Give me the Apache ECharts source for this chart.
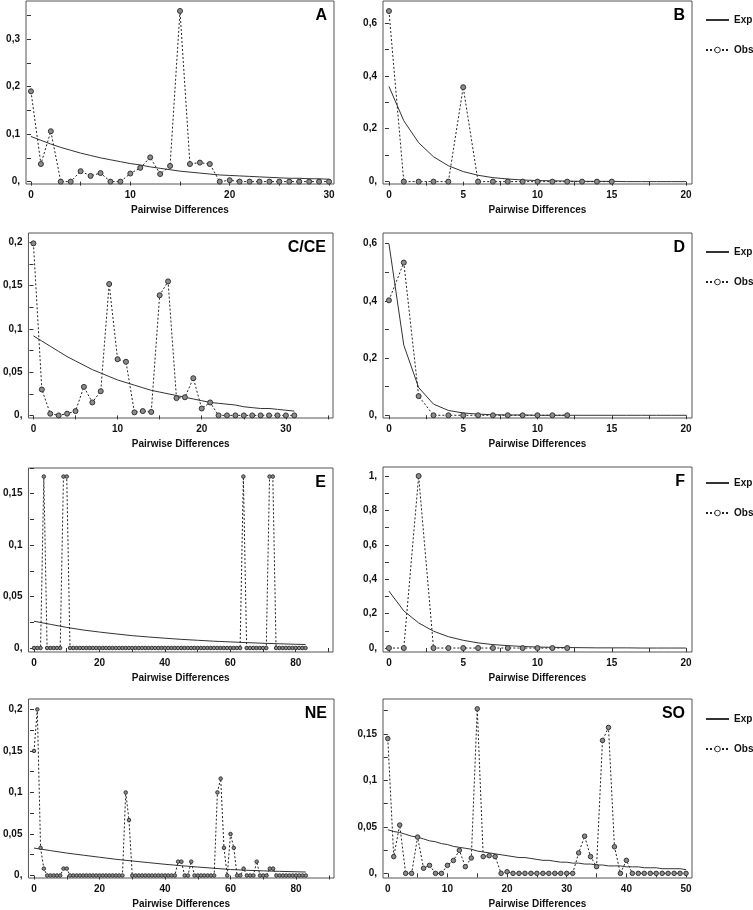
<!DOCTYPE html>
<html>
<head>
<meta charset="utf-8">
<script src="https://cdn.jsdelivr.net/npm/echarts@6/dist/echarts.min.js"></script>
<style>
  html, body { margin: 0; padding: 0; background: #fff; }
  #chart { width: 753px; height: 910px; }
</style>
</head>
<body>
<div id="chart"></div>
<script>
// Mismatch distributions: observed vs expected pairwise differences

// --- A ---
const obsA = [0.19, 0.037, 0.106, 0, 0, 0.022, 0.012, 0.018, 0, 0, 0.017, 0.029, 0.051, 0.016, 0.033, 0.359,
  0.037, 0.040, 0.037, 0, 0.003, 0, 0, 0, 0, 0, 0, 0, 0, 0, 0];
const expA = [0.095, 0.087, 0.079, 0.072, 0.066, 0.060, 0.055, 0.050, 0.046, 0.042, 0.038, 0.035, 0.031, 0.028,
  0.025, 0.022, 0.020, 0.018, 0.016, 0.014, 0.013, 0.012, 0.011, 0.010, 0.009, 0.008, 0.007, 0.007, 0.006, 0.006, 0.005];
const xLabelsA = [0, 10, 20, 30];
const yLabelsA = [0, 0.1, 0.2, 0.3];

// --- B ---
const obsB = [0.645, 0, 0, 0, 0, 0.357, 0, 0, 0, 0, 0, 0, 0, 0, 0, 0];
const expB = [0.36, 0.23, 0.147, 0.094, 0.06, 0.038, 0.024, 0.015, 0.01, 0.006, 0.004, 0.003, 0.002, 0.001,
  0.001, 0.001, 0, 0, 0, 0, 0];
const xLabelsB = [0, 5, 10, 15, 20];
const yLabelsB = [0, 0.2, 0.4, 0.6];

// --- C/CE ---
const obsC = [0.199, 0.030, 0.002, 0, 0.002, 0.005, 0.033, 0.015, 0.028, 0.152, 0.065, 0.062, 0.0035, 0.005,
  0.004, 0.139, 0.155, 0.020, 0.021, 0.043, 0.008, 0.015, 0, 0, 0, 0, 0, 0, 0, 0, 0, 0];
const expC = [0.092, 0.086, 0.080, 0.074, 0.068, 0.063, 0.058, 0.053, 0.049, 0.045, 0.041, 0.038, 0.035, 0.032,
  0.029, 0.027, 0.025, 0.023, 0.021, 0.019, 0.017, 0.015, 0.014, 0.013, 0.012, 0.010, 0.009, 0.008, 0.008, 0.007, 0.006, 0.005];
const xLabelsC = [0, 10, 20, 30];
const yLabelsC = [0, 0.05, 0.1, 0.15, 0.2];

// --- D ---
const obsD = [0.402, 0.534, 0.067, 0, 0, 0, 0, 0, 0, 0, 0, 0, 0];
const expD = [0.60, 0.245, 0.097, 0.039, 0.017, 0.008, 0.004, 0.002, 0.001, 0.001, 0, 0, 0, 0, 0, 0, 0, 0, 0, 0, 0];
const xLabelsD = [0, 5, 10, 15, 20];
const yLabelsD = [0, 0.2, 0.4, 0.6];

// --- E ---
const obsE = [
  0, 0, 0, 0.1667, 0, 0, 0, 0, 0, 0.1667,
  0.1667, 0, 0, 0, 0, 0, 0, 0, 0, 0,
  0, 0, 0, 0, 0, 0, 0, 0, 0, 0,
  0, 0, 0, 0, 0, 0, 0, 0, 0, 0,
  0, 0, 0, 0, 0, 0, 0, 0, 0, 0,
  0, 0, 0, 0, 0, 0, 0, 0, 0, 0,
  0, 0, 0, 0, 0.1667, 0, 0, 0, 0, 0,
  0, 0, 0.1667, 0.1667, 0, 0, 0, 0, 0, 0,
  0, 0, 0, 0];
const expE = [[0, 0.026], [5, 0.023], [10, 0.020], [15, 0.0175], [20, 0.0155], [25, 0.0137], [30, 0.012],
  [35, 0.0107], [40, 0.0095], [45, 0.0084], [50, 0.0075], [55, 0.0066], [60, 0.0059], [65, 0.0052],
  [70, 0.0046], [75, 0.0041], [80, 0.0036], [83, 0.0034]];
const xLabelsE = [0, 20, 40, 60, 80];
const yLabelsE = [0, 0.05, 0.1, 0.15];

// --- F ---
const obsF = [0, 0, 1, 0, 0, 0, 0, 0, 0, 0, 0, 0, 0];
const expF = [0.331, 0.216, 0.146, 0.098, 0.066, 0.045, 0.030, 0.020, 0.014, 0.009, 0.006, 0.004, 0.003, 0.002,
  0.001, 0.001, 0.001, 0, 0, 0, 0];
const xLabelsF = [0, 5, 10, 15, 20];
const yLabelsF = [0, 0.2, 0.4, 0.6, 0.8, 1];

// --- NE ---
const obsNE = [
  0.15, 0.2, 0.0333, 0.0083, 0, 0, 0, 0, 0, 0.0083,
  0.0083, 0, 0, 0, 0, 0, 0, 0, 0, 0,
  0, 0, 0, 0, 0, 0, 0, 0, 0.1, 0.0667,
  0, 0, 0, 0, 0, 0, 0, 0, 0, 0,
  0, 0, 0, 0, 0.0167, 0.0167, 0, 0, 0.0167, 0,
  0, 0, 0, 0, 0, 0, 0.1, 0.1167, 0.0333, 0,
  0.05, 0.0333, 0, 0, 0.0083, 0, 0, 0, 0.0167, 0,
  0, 0, 0.0083, 0.0083, 0, 0, 0, 0, 0, 0,
  0, 0, 0, 0];
const expNE = [[0, 0.033], [5, 0.030], [10, 0.027], [15, 0.0245], [20, 0.022], [25, 0.0195], [30, 0.0175],
  [35, 0.0155], [40, 0.0135], [45, 0.0118], [50, 0.0102], [55, 0.0087], [60, 0.0072], [65, 0.0063],
  [70, 0.0056], [75, 0.005], [80, 0.0045], [83, 0.0042]];
const xLabelsNE = [0, 20, 40, 60, 80];
const yLabelsNE = [0, 0.05, 0.1, 0.15, 0.2];

// --- SO ---
const obsSO = [
  0.145, 0.018, 0.052, 0, 0, 0.039, 0.0055, 0.0086, 0, 0,
  0.0086, 0.0138, 0.0248, 0.0072, 0.0165, 0.177, 0.018, 0.019, 0.018, 0,
  0.0017, 0, 0, 0, 0, 0, 0, 0, 0, 0,
  0, 0, 0.022, 0.040, 0.018, 0.0072, 0.143, 0.157, 0.0286, 0,
  0.014, 0, 0, 0, 0, 0, 0, 0, 0, 0, 0];
const expSO = [0.047, 0.045, 0.044, 0.042, 0.040, 0.039, 0.037, 0.035, 0.034, 0.032, 0.031, 0.029, 0.028, 0.027,
  0.026, 0.024, 0.023, 0.022, 0.021, 0.020, 0.019, 0.018, 0.017, 0.017, 0.016, 0.015, 0.014, 0.014, 0.013,
  0.012, 0.012, 0.011, 0.011, 0.010, 0.010, 0.009, 0.009, 0.008, 0.008, 0.008, 0.007, 0.007, 0.007, 0.006,
  0.006, 0.006, 0.005, 0.005, 0.005, 0.005, 0.004];
const xLabelsSO = [0, 10, 20, 30, 40, 50];
const yLabelsSO = [0, 0.05, 0.1, 0.15];

// panel frames (pixels) and axis extents
const panels = [
  { letter: 'A', frame: [26, 1, 308, 183], x: [-0.5, 30.5], y: [-0.005, 0.38], obs: obsA, exp: expA,
    xl: xLabelsA, xt: 5, yl: yLabelsA, yt: 0.05, dot: 5 },
  { letter: 'B', frame: [383, 1, 309, 183], x: [-0.4, 20.4], y: [-0.009, 0.683], obs: obsB, exp: expB,
    xl: xLabelsB, xt: 2.5, yl: yLabelsB, yt: 0.1, dot: 5, legendTop: 15 },
  { letter: 'C/CE', frame: [26, 233, 307, 185], x: [-0.59, 35.6], y: [-0.003, 0.211], obs: obsC, exp: expC,
    xl: xLabelsC, xt: 5, yl: yLabelsC, yt: 0.025, dot: 5 },
  { letter: 'D', frame: [383, 233, 309, 185], x: [-0.4, 20.4], y: [-0.0095, 0.6375], obs: obsD, exp: expD,
    xl: xLabelsD, xt: 2.5, yl: yLabelsD, yt: 0.1, dot: 5, legendTop: 247 },
  { letter: 'E', frame: [26, 468, 307, 184], x: [-1.7, 91.4], y: [-0.0039, 0.175], obs: obsE, exp: expE,
    xl: xLabelsE, xt: 10, yl: yLabelsE, yt: 0.025, dot: 3.5 },
  { letter: 'F', frame: [383, 467, 309, 185], x: [-0.4, 20.4], y: [-0.023, 1.0525], obs: obsF, exp: expF,
    xl: xLabelsF, xt: 2.5, yl: yLabelsF, yt: 0.1, dot: 5, legendTop: 478 },
  { letter: 'NE', frame: [26, 699, 308, 185], x: [-1.7, 91.6], y: [-0.003, 0.2125], obs: obsNE, exp: expNE,
    xl: xLabelsNE, xt: 10, yl: yLabelsNE, yt: 0.025, dot: 3.5 },
  { letter: 'SO', frame: [383, 699, 309, 187], x: [-0.8, 51.0], y: [-0.005, 0.1876], obs: obsSO, exp: expSO,
    xl: xLabelsSO, xt: 5, yl: yLabelsSO, yt: 0.025, dot: 4.5, legendTop: 714 }
];

const FONT = "'Liberation Sans Narrow', 'Liberation Sans', Arial, sans-serif";
const INK = '#111';

function tickList(lo, hi, step) {
  const out = [];
  const start = Math.ceil(lo / step - 1e-9) * step;
  for (let v = start; v <= hi + 1e-9; v += step) out.push(+v.toFixed(4));
  return out;
}

function commaLabel(v) {
  v = +(+v).toFixed(4);
  if (Number.isInteger(v)) return v + ',';
  return String(v).replace('.', ',');
}

const toPairs = arr => (Array.isArray(arr[0]) ? arr : arr.map((v, i) => [i, v]));

const chart = echarts.init(document.getElementById('chart'), null, { renderer: 'canvas' });

const grids = [], xAxes = [], yAxes = [], series = [], titles = [], legends = [];

// legend entries: the expected curve shows only its line
const legendItems = [
  { name: 'Exp', itemStyle: { color: 'rgba(0,0,0,0)', borderColor: 'rgba(0,0,0,0)', borderWidth: 0 } },
  { name: 'Obs', itemStyle: { color: '#fff', borderColor: '#333', borderWidth: 1 } }
];

panels.forEach((p, i) => {
  const [l, t, w, h] = p.frame;
  grids.push({ left: l, top: t, width: w, height: h, show: true, borderColor: '#555', borderWidth: 1 });
  xAxes.push({
    type: 'value', gridIndex: i, min: p.x[0], max: p.x[1],
    name: 'Pairwise Differences', nameLocation: 'middle', nameGap: 21,
    nameTextStyle: { fontFamily: FONT, fontWeight: 'bold', fontSize: 10, color: INK },
    axisLine: { show: false },
    axisTick: { show: true, length: 4, customValues: tickList(0, p.x[1], p.xt), lineStyle: { color: '#333' } },
    axisLabel: { customValues: p.xl, margin: 6, fontFamily: FONT, fontWeight: 'bold', fontSize: 10, color: INK },
    splitLine: { show: false }
  });
  yAxes.push({
    type: 'value', gridIndex: i, min: p.y[0], max: p.y[1],
    axisLine: { show: false },
    axisTick: { show: true, length: 4, customValues: tickList(0, p.y[1], p.yt), lineStyle: { color: '#333' } },
    axisLabel: { customValues: p.yl, margin: 6, formatter: commaLabel, fontFamily: FONT, fontWeight: 'bold',
      fontSize: 10, color: INK },
    splitLine: { show: false }
  });
  series.push({
    type: 'line', name: 'Exp', xAxisIndex: i, yAxisIndex: i, data: toPairs(p.exp),
    symbol: 'none', lineStyle: { color: '#333', width: 1 }, itemStyle: { color: '#333' }, z: 2
  });
  series.push({
    type: 'line', name: 'Obs', xAxisIndex: i, yAxisIndex: i, data: toPairs(p.obs),
    symbol: 'circle', symbolSize: p.dot, showSymbol: true,
    lineStyle: { color: '#222', width: 1, type: [2, 2] },
    itemStyle: { color: '#8c8c8c', borderColor: '#333', borderWidth: 1 }, z: 3
  });
  titles.push({
    text: p.letter, right: 753 - (l + w - 7), top: t + 7, padding: 0,
    textStyle: { fontFamily: "'Liberation Sans', Arial, sans-serif", fontWeight: 'bold', fontSize: 16, color: '#000' }
  });
  if (p.legendTop !== undefined) {
    legends.push({
      data: legendItems, orient: 'vertical', left: 705, top: p.legendTop, padding: 0,
      itemWidth: 23, itemHeight: 7, itemGap: 20, selectedMode: false,
      textStyle: { fontFamily: FONT, fontWeight: 'bold', fontSize: 10, color: INK }
    });
  }
});

chart.setOption({
  animation: false,
  backgroundColor: '#fff',
  title: titles,
  legend: legends,
  grid: grids,
  xAxis: xAxes,
  yAxis: yAxes,
  series: series
});

window.addEventListener('resize', () => chart.resize());
</script>
</body>
</html>
